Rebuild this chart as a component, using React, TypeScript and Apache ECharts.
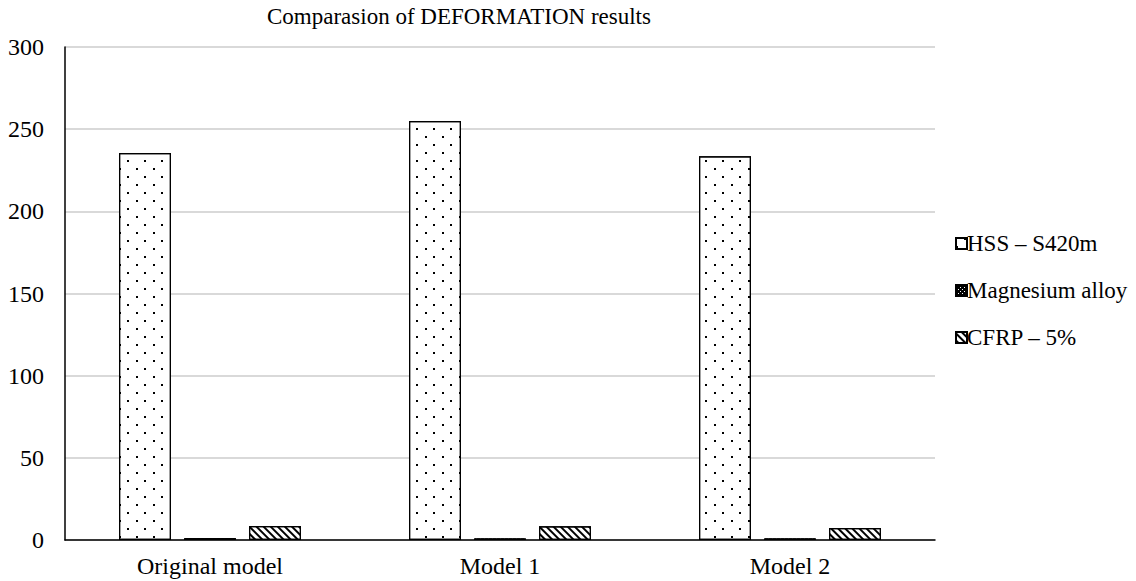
import React, { useEffect, useRef } from "react";
import * as echarts from "echarts";

// Deformation results per model and material
const categories = ["Original model", "Model 1", "Model 2"];
const seriesNames = ["HSS – S420m", "Magnesium alloy", "CFRP – 5%"];
const hssValues = [235.5, 255, 233.5];
const magnesiumValues = [1.2, 1.0, 1.0];
const cfrpValues = [8.5, 8.4, 7.3];
const yTicks = { min: 0, max: 300, interval: 50 };

const FONT = "'Liberation Serif', 'Times New Roman', serif";
const textBase = {
  fontFamily: FONT,
  fontWeight: "normal" as const,
  fontStyle: "normal" as const,
  fontSize: 23,
  color: "#000",
};

export default function App() {
  const ref = useRef<HTMLDivElement>(null);

  useEffect(() => {
    if (!ref.current) return;
    const chart = echarts.init(ref.current, null, { renderer: "svg" });

    const dots = {
      symbol: "rect",
      symbolSize: 1,
      color: "#000",
      backgroundColor: "#fff",
      dashArrayX: [
        [2, 15],
        [0, 8, 2, 7],
      ],
      dashArrayY: [2, 6],
    };
    const darkDots = {
      symbol: "rect",
      symbolSize: 1,
      color: "#fff",
      backgroundColor: "#000",
      dashArrayX: [
        [1, 3],
        [0, 2, 1, 1],
      ],
      dashArrayY: [1, 1],
    };
    const hatch = {
      symbol: "rect",
      symbolSize: 1,
      color: "#000",
      backgroundColor: "#fff",
      dashArrayX: [1, 0],
      dashArrayY: [1.2, 2.8],
      rotation: Math.PI / 4,
    };

    const barBase = {
      type: "bar" as const,
      barWidth: 52,
      barGap: "25%",
    };

    chart.setOption({
      animation: false,
      backgroundColor: "#fff",
      textStyle: { ...textBase },
      title: {
        text: "Comparasion of DEFORMATION results",
        left: 262,
        top: 0,
        textStyle: { ...textBase },
      },
      legend: {
        orient: "vertical",
        left: 950,
        top: 227,
        itemWidth: 11,
        itemHeight: 11,
        itemGap: 24,
        icon: "rect",
        textStyle: { ...textBase, padding: [0, 0, 0, -5] },
        data: seriesNames,
      },
      grid: { left: 65, right: 201, top: 47, bottom: 41 },
      xAxis: {
        type: "category",
        data: categories,
        axisLine: { lineStyle: { color: "#000", width: 1.5 } },
        axisTick: { show: false },
        axisLabel: { ...textBase, fontSize: 24, margin: 14 },
      },
      yAxis: {
        type: "value",
        min: yTicks.min,
        max: yTicks.max,
        interval: yTicks.interval,
        axisLine: { show: true, lineStyle: { color: "#000", width: 1.5 } },
        axisTick: { show: false },
        splitLine: { lineStyle: { color: "#d9d9d9", width: 2 } },
        axisLabel: { ...textBase, fontSize: 24, margin: 21 },
      },
      series: [
        {
          ...barBase,
          name: seriesNames[0],
          data: hssValues,
          itemStyle: { color: "#fff", borderColor: "#000", borderWidth: 1.2, decal: dots },
        },
        {
          ...barBase,
          name: seriesNames[1],
          data: magnesiumValues,
          itemStyle: { color: "#000", borderColor: "#000", borderWidth: 1, decal: darkDots },
        },
        {
          ...barBase,
          name: seriesNames[2],
          data: cfrpValues,
          itemStyle: { color: "#fff", borderColor: "#000", borderWidth: 1.2, decal: hatch },
        },
      ],
    });

    return () => chart.dispose();
  }, []);

  return <div ref={ref} style={{ width: 1136, height: 581, position: "absolute", left: 0, top: 0 }} />;
}
